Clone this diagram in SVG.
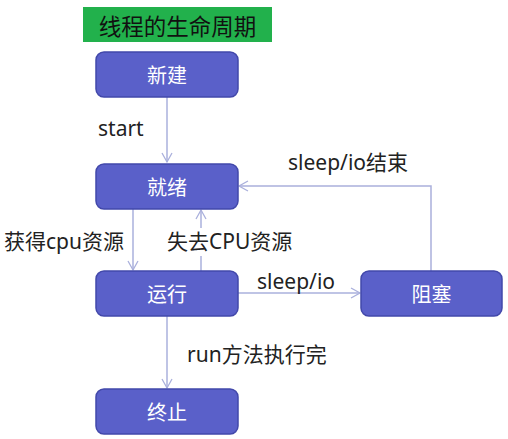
<svg xmlns="http://www.w3.org/2000/svg" width="508" height="439" viewBox="0 0 508 439">
<defs>
<marker id="arr" markerWidth="12" markerHeight="12" refX="10" refY="6" orient="auto" markerUnits="userSpaceOnUse">
<path d="M1,1 L10,6 L1,11" fill="none" stroke="#aab0dc" stroke-width="1.3"/>
</marker>
<style>
.node rect{fill:#5a60c9;stroke:#4248aa;stroke-width:1.5}
.node text{fill:#ffffff;font-family:"Noto Sans CJK SC","Noto Sans",sans-serif;font-size:20px;text-anchor:middle;dominant-baseline:central}
.lbl{fill:#222222;font-family:"Noto Sans","Noto Sans CJK SC",sans-serif;font-size:21px}
.edge{fill:none;stroke:#aab0dc;stroke-width:1.5;marker-end:url(#arr)}
</style>
</defs>
<rect width="508" height="439" fill="#ffffff"/>
<g id="title">
<rect x="83" y="7" width="189" height="35" fill="#22b14c"/>
<text x="177.5" y="25" fill="#111111" font-family="Noto Sans CJK SC,sans-serif" font-size="22.5" text-anchor="middle" dominant-baseline="central">线程的生命周期</text>
</g>
<g id="connectors">
<path class="edge" d="M167,97 L167,162"/>
<path class="edge" d="M133,209 L133,270"/>
<path class="edge" d="M201,271 L201,210"/>
<path class="edge" d="M238,293 L360,293"/>
<path class="edge" d="M431,271 L431,186 L239,186"/>
<path class="edge" d="M167,316 L167,388"/>
</g>
<g id="labels">
<text class="lbl" x="98" y="136">start</text>
<text class="lbl" x="4" y="249">获得cpu资源</text>
<rect x="166" y="228" width="134" height="28" fill="#ffffff"/>
<text class="lbl" x="167" y="249">失去CPU资源</text>
<text class="lbl" x="257" y="289">sleep/io</text>
<text class="lbl" x="288" y="170">sleep/io结束</text>
<text class="lbl" x="187" y="362">run方法执行完</text>
</g>
<g id="n-new" class="node"><rect x="96" y="52" width="142" height="45" rx="8"/><text x="167" y="74.5">新建</text></g>
<g id="n-ready" class="node"><rect x="96" y="164" width="142" height="45" rx="8"/><text x="167" y="186.5">就绪</text></g>
<g id="n-run" class="node"><rect x="96" y="271" width="142" height="45" rx="8"/><text x="167" y="293.5">运行</text></g>
<g id="n-block" class="node"><rect x="361" y="271" width="141" height="45" rx="8"/><text x="431.5" y="293.5">阻塞</text></g>
<g id="n-end" class="node"><rect x="96" y="389" width="142" height="45" rx="8"/><text x="167" y="411.5">终止</text></g>
</svg>
